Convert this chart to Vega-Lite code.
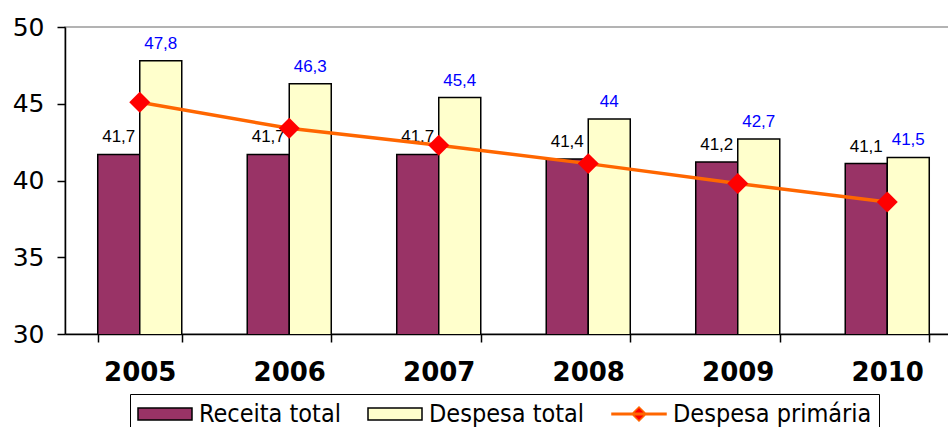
{
  "$schema": "https://vega.github.io/schema/vega-lite/v6.json",
  "autosize": {"type": "none"},
  "padding": {"left": 65, "top": 27, "right": -14, "bottom": 93},
  "width": 897,
  "height": 307,
  "background": "white",
  "config": {
    "locale": {"number": {"decimal": ",", "thousands": ".", "grouping": [3], "currency": ["", ""]}},
    "view": {"stroke": "#9a9a9a", "strokeWidth": 1.5}
  },
  "datasets": {
    "bars": [
      {"year": "2005", "series": "Receita total", "value": 41.7},
      {"year": "2005", "series": "Despesa total", "value": 47.8},
      {"year": "2006", "series": "Receita total", "value": 41.7},
      {"year": "2006", "series": "Despesa total", "value": 46.3},
      {"year": "2007", "series": "Receita total", "value": 41.7},
      {"year": "2007", "series": "Despesa total", "value": 45.4},
      {"year": "2008", "series": "Receita total", "value": 41.4},
      {"year": "2008", "series": "Despesa total", "value": 44},
      {"year": "2009", "series": "Receita total", "value": 41.2},
      {"year": "2009", "series": "Despesa total", "value": 42.7},
      {"year": "2010", "series": "Receita total", "value": 41.1},
      {"year": "2010", "series": "Despesa total", "value": 41.5}
    ],
    "line": [
      {"year": "2005", "series": "Despesa primária", "value": 45.1},
      {"year": "2006", "series": "Despesa primária", "value": 43.4},
      {"year": "2007", "series": "Despesa primária", "value": 42.3},
      {"year": "2008", "series": "Despesa primária", "value": 41.1},
      {"year": "2009", "series": "Despesa primária", "value": 39.8},
      {"year": "2010", "series": "Despesa primária", "value": 38.6}
    ]
  },
  "layer": [
    {
      "data": {"name": "bars"},
      "mark": {"type": "bar", "stroke": "black", "strokeWidth": 1.5, "clip": true},
      "encoding": {
        "x": {
          "field": "year", "type": "ordinal",
          "scale": {"paddingInner": 0.438, "paddingOuter": 0.219},
          "axis": {
            "title": null, "labelAngle": 0, "tickBand": "extent",
            "domainColor": "black", "domainWidth": 1.5, "tickColor": "black", "tickWidth": 1.5, "tickSize": 8,
            "labelFont": "DejaVu Sans", "labelFontSize": 26, "labelFontWeight": "bold", "labelColor": "black",
            "labelPadding": 17
          }
        },
        "xOffset": {
          "field": "series", "type": "nominal",
          "scale": {"domain": ["Receita total", "Despesa total"], "paddingInner": 0, "paddingOuter": 0}
        },
        "y": {
          "field": "value", "type": "quantitative",
          "scale": {"domain": [30, 50], "nice": false, "zero": false},
          "axis": {
            "title": null, "values": [30, 35, 40, 45, 50], "grid": false,
            "domainColor": "black", "domainWidth": 1.5, "tickColor": "black", "tickWidth": 1.5, "tickSize": 8,
            "labelFont": "DejaVu Sans", "labelFontSize": 25, "labelColor": "black", "labelPadding": 13
          }
        },
        "color": {
          "field": "series", "type": "nominal",
          "scale": {
            "domain": ["Receita total", "Despesa total", "Despesa primária"],
            "range": ["#993366", "#FFFFCC", "#FF0000"]
          },
          "legend": {
            "title": null,
            "orient": "none",
            "legendX": 65,
            "legendY": 367,
            "direction": "horizontal",
            "strokeColor": "black",
            "fillColor": "white",
            "padding": 7,
            "columnPadding": 26,
            "labelOffset": 6,
            "labelLimit": 400,
            "clipHeight": 26,
            "labelFont": "DejaVu Sans Condensed, DejaVu Sans",
            "labelFontSize": 25,
            "labelColor": "black",
            "symbolType": "M-1,-0.22H1V0.22H-1Z",
            "symbolSize": 2916,
            "symbolStrokeColor": "black",
            "symbolStrokeWidth": 1.5,
            "encode": {
              "symbols": {
                "update": {
                  "shape": {"signal": "datum.value === 'Despesa primária' ? 'M-1,-0.03H1V0.03H-1ZM0,-0.26L0.26,0L0,0.26L-0.26,0Z' : 'M-1,-0.22H1V0.22H-1Z'"},
                  "fill": {"signal": "datum.value === 'Receita total' ? '#993366' : datum.value === 'Despesa total' ? '#FFFFCC' : '#FF0000'"},
                  "stroke": {"signal": "datum.value === 'Despesa primária' ? '#FF6600' : 'black'"}
                }
              }
            }
          }
        }
      }
    },
    {
      "data": {"name": "bars"},
      "mark": {"type": "text", "font": "Liberation Sans", "fontSize": 17, "baseline": "alphabetic", "dy": -12},
      "encoding": {
        "x": {"field": "year", "type": "ordinal"},
        "xOffset": {"field": "series", "type": "nominal"},
        "y": {"field": "value", "type": "quantitative"},
        "text": {"field": "value", "type": "quantitative", "format": ".3~r"},
        "color": {"condition": {"test": "datum.series === 'Despesa total'", "value": "#0000FF"}, "value": "black"}
      }
    },
    {
      "data": {"name": "line"},
      "mark": {"type": "line", "strokeWidth": 3.5, "color": "#FF6600"},
      "encoding": {
        "x": {"field": "year", "type": "ordinal"},
        "y": {"field": "value", "type": "quantitative"}
      }
    },
    {
      "data": {"name": "line"},
      "mark": {"type": "point", "shape": "diamond", "filled": true, "color": "#FF0000", "size": 440, "opacity": 1},
      "encoding": {
        "x": {"field": "year", "type": "ordinal"},
        "y": {"field": "value", "type": "quantitative"}
      }
    }
  ]
}
